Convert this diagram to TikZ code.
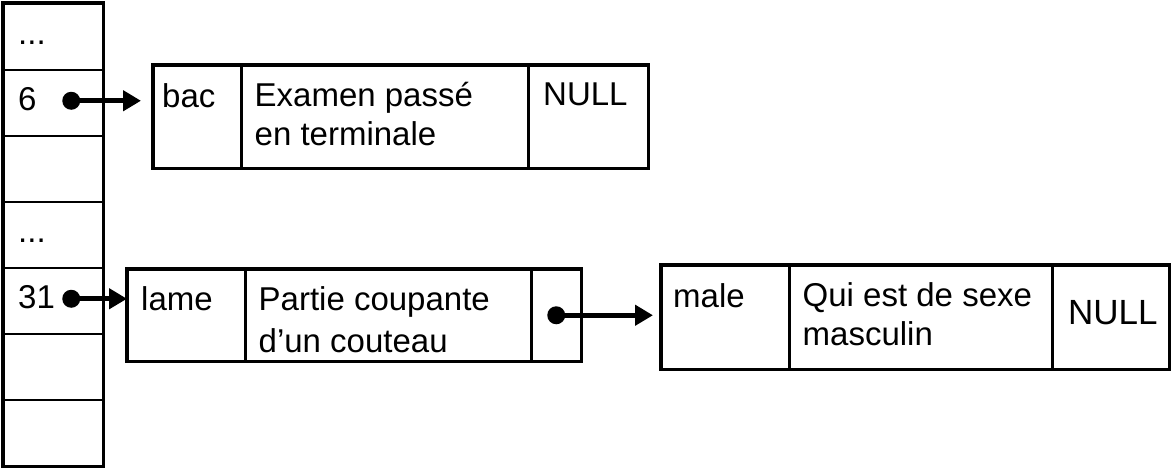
\documentclass[tikz,border=0pt]{standalone}
\usepackage{fontspec}
\setmainfont{Liberation Sans}
\usepackage{tikz}
\usetikzlibrary{positioning,calc,arrows.meta}
\newcommand{\pointilles}{...}

\begin{document}
\begin{tikzpicture}[x=1pt,y=-1pt,
		cellule/.style={draw,line width=1.5pt,inner sep=0pt,anchor=north west},
		cadre/.style={line width=3.5pt,line join=miter},
		texte/.style={inner sep=0pt,anchor=base west,align=left,font=\fontsize{33}{39}\selectfont},
		point/.style={circle,fill,inner sep=0pt,minimum size=18pt},
		fleche/.style={line width=5pt,-{Triangle[length=18pt,width=20pt]}}]
				\useasboundingbox (0,0) rectangle (1171,467);
				% table
				\foreach \i in {1,...,7}{\node[cellule,minimum width=99pt,minimum height=66pt] (r\i) at (3,{3+66*(\i-1)}) {};}
				\draw[cadre] (r1.north west) rectangle (r7.south east);
				\foreach \r/\t in {1/\pointilles,2/6,4/\pointilles,5/31}{\node[texte] (t\r) at ($(r\r.north west)+(15,41)$) {\t};}
				\node[point] (p6) at ($(r2.center)+(18,-2)$) {};
				\node[point] (p31) at ($(r5.center)+(18,-2)$) {};
				% bac
				\node[cellule,minimum width=87pt,minimum height=102pt] (k1) at (153,65) {};
				\node[cellule,minimum width=285pt,minimum height=102pt,right=0pt of k1] (d1) {};
				\node[cellule,minimum width=119pt,minimum height=102pt,right=0pt of d1] (n1) {};
				\draw[cadre] (k1.north west) rectangle (n1.south east);
				\node[texte] (tk1) at ($(k1.north west)+(9,42)$) {bac};
				\node[texte] (td1) at ($(d1.north west)+(13,80)$) {Examen passé\\en terminale};
				\node[texte] (tn1) at ($(n1.north west)+(15,40)$) {NULL};
				% lame
				\node[cellule,minimum width=117pt,minimum height=91pt] (k2) at (127,269) {};
				\node[cellule,minimum width=284pt,minimum height=91pt,right=0pt of k2] (d2) {};
				\node[cellule,minimum width=49pt,minimum height=91pt,right=0pt of d2] (n2) {};
				\draw[cadre] (k2.north west) rectangle (n2.south east);
				\node[texte] (tk2) at ($(k2.north west)+(14,41)$) {lame};
				\node[texte,font=\fontsize{33}{42}\selectfont] (td2) at ($(d2.north west)+(13,83)$) {Partie coupante\\d’un couteau};
				\node[point] (pn) at (n2.center) {};
				% male
				\node[cellule,minimum width=127pt,minimum height=103pt] (k3) at (661,265) {};
				\node[cellule,minimum width=261pt,minimum height=103pt,right=0pt of k3] (d3) {};
				\node[cellule,minimum width=116pt,minimum height=103pt,right=0pt of d3] (n3) {};
				\draw[cadre] (k3.north west) rectangle (n3.south east);
				\node[texte] (tk3) at ($(k3.north west)+(12,42)$) {male};
				\node[texte] (td3) at ($(d3.north west)+(13,80)$) {Qui est de sexe\\masculin};
				\node[texte,font=\fontsize{35}{40}\selectfont] (tn3) at ($(n3.north west)+(16,59)$) {NULL};
				% pointeurs
				\draw[fleche,shorten >=12pt] (p6.center) -- (p6 -| k1.west);
				\draw[fleche] (p31.center) -- (p31 -| k2.west);
				\draw[fleche,shorten >=8pt] (pn.center) -- (pn -| k3.west);
			\end{tikzpicture}
\end{document}
